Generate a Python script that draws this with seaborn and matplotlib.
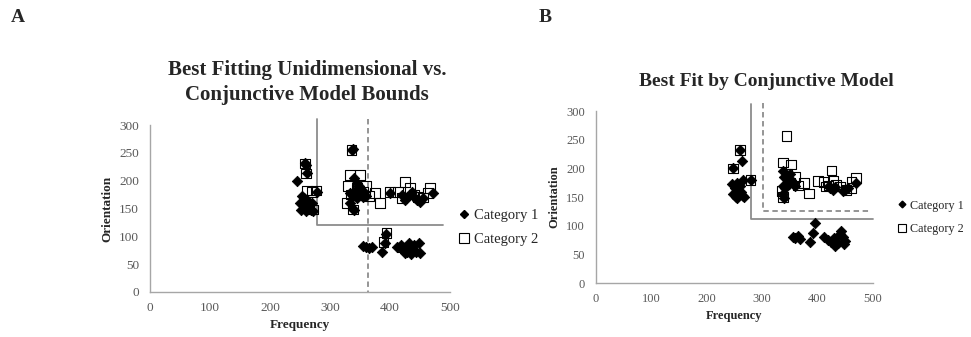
import matplotlib
matplotlib.use("Agg")
import matplotlib.pyplot as plt
from matplotlib.lines import Line2D
import seaborn as sns
import pandas as pd

# ---------------- data ----------------
# Panel A
a_cat1_freq = [245, 258, 260, 262, 253, 256, 250, 255, 258, 262, 265, 252, 260, 268, 272, 256, 262, 266, 270, 278,
               336, 338, 340, 345, 348, 350, 342, 334, 338, 352, 355, 345, 333, 338, 340, 356, 360,
               400, 428, 436, 450, 472, 425, 440, 445, 420, 455,
               355, 360, 365, 370, 394, 392, 386, 412, 418, 422, 428, 430, 435, 438, 440, 444, 448, 450, 425, 432]
a_cat1_orient = [200, 232, 228, 213, 172, 168, 160, 158, 155, 152, 150, 148, 146, 147, 146, 163, 165, 158, 160, 180,
                 255, 256, 205, 195, 190, 185, 182, 178, 172, 175, 170, 168, 160, 150, 147, 180, 172,
                 178, 171, 180, 162, 178, 165, 170, 165, 175, 168,
                 82, 80, 79, 81, 105, 88, 72, 80, 85, 75, 72, 80, 68, 78, 85, 72, 88, 70, 70, 88]
a_cat2_freq = [258, 260, 262, 270, 277, 265, 272,
               336, 333, 350, 330, 335, 328, 345, 355, 360, 338, 375, 383, 365,
               400, 413, 425, 433, 447, 467, 463, 420, 440, 455,
               394, 389, 420, 430]
a_cat2_orient = [231, 213, 182, 180, 182, 150, 148,
                 255, 210, 210, 190, 175, 160, 185, 180, 190, 148, 178, 160, 172,
                 180, 180, 198, 187, 171, 187, 178, 169, 175, 170,
                 106, 90, 80, 75]

# Panel B
b_cat1_freq = [260, 263, 247, 245, 250, 248, 252, 255, 258, 262, 265, 268, 255, 260, 265, 279,
               337, 340, 345, 350, 352, 355, 338, 342, 348, 360, 337, 340,
               423, 428, 431, 446, 450, 455, 469, 420,
               395, 392, 386, 356, 360, 365, 368, 412, 418, 425, 430, 436, 440, 445, 448, 450, 432, 442]
b_cat1_orient = [232, 212, 200, 172, 165, 155, 150, 148, 160, 158, 152, 150, 175, 170, 180, 180,
                 195, 185, 182, 190, 180, 175, 170, 165, 172, 170, 155, 148,
                 165, 163, 167, 160, 163, 166, 174, 170,
                 104, 87, 72, 80, 78, 82, 77, 80, 75, 72, 78, 70, 85, 80, 68, 73, 65, 90]
b_cat2_freq = [260, 247, 279, 344, 337, 352, 335, 338, 345, 350, 360, 365, 375, 384, 401, 425,
               412, 420, 428, 433, 415, 461, 469, 461, 452, 440]
b_cat2_orient = [232, 200, 180, 256, 210, 207, 160, 150, 190, 175, 185, 170, 174, 156, 178, 196,
                 176, 170, 178, 172, 168, 166, 183, 177, 162, 168]

# model bounds
a_solid_x = [278, 278, 488]
a_solid_y = [310, 120, 120]
a_dash_x = [363, 363]
a_dash_y = [310, 0]
b_solid_x = [279, 279, 500]
b_solid_y = [312, 112, 112]
b_dash_x = [301, 301, 495]
b_dash_y = [314, 126, 126]

categories = ["Category 1", "Category 2"]
x_ticks = [0, 100, 200, 300, 400, 500]
y_ticks = [0, 50, 100, 150, 200, 250, 300]

# ---------------- style ----------------
sns.set_style("white")
plt.rcParams["font.family"] = ["Liberation Serif", "DejaVu Serif"]

fig = plt.figure(figsize=(9.71, 3.37), dpi=100)
W, H = 971, 337


def axes_from_px(x0, x1, y0, y1):
    return fig.add_axes([x0 / W, 1 - y1 / H, (x1 - x0) / W, (y1 - y0) / H])


axA = axes_from_px(150, 450, 125, 292)
axB = axes_from_px(596, 873, 111, 283)

spine_col = "#a6a6a6"
tick_col = "#595959"
line_col = "#8c8c8c"


def draw(ax, f1, o1, f2, o2, fs):
    d1 = pd.DataFrame({"Frequency": f1, "Orientation": o1})
    d2 = pd.DataFrame({"Frequency": f2, "Orientation": o2})
    sns.scatterplot(data=d1, x="Frequency", y="Orientation", marker="D", s=28,
                    color="black", edgecolor="black", linewidth=0.6, ax=ax, zorder=3)
    sns.scatterplot(data=d2, x="Frequency", y="Orientation", marker="s", s=48,
                    facecolor="none", edgecolor="black", linewidth=0.8, ax=ax, zorder=4)
    ax.set_xlim(0, 500)
    ax.set_ylim(0, 300)
    ax.set_xticks(x_ticks)
    ax.set_yticks(y_ticks)
    for s in ["top", "right"]:
        ax.spines[s].set_visible(False)
    for s in ["left", "bottom"]:
        ax.spines[s].set_color(spine_col)
        ax.spines[s].set_linewidth(1.0)
    ax.tick_params(axis="both", which="both", direction="out", length=3, width=0.8,
                   color=spine_col, labelcolor=tick_col, labelsize=fs)
    ax.tick_params(axis="x", pad=4)
    ax.tick_params(axis="y", pad=5)
    ax.set_xlabel("Frequency", fontsize=fs, fontweight="bold", labelpad=4)
    ax.set_ylabel("Orientation", fontsize=fs, fontweight="bold", labelpad=4)
    ax.set_facecolor("white")


draw(axA, a_cat1_freq, a_cat1_orient, a_cat2_freq, a_cat2_orient, 9.5)
draw(axB, b_cat1_freq, b_cat1_orient, b_cat2_freq, b_cat2_orient, 9)

axA.plot(a_solid_x, a_solid_y, color=line_col, lw=1.3, clip_on=False, zorder=2)
axA.plot(a_dash_x, a_dash_y, color=line_col, lw=1.3, ls=(0, (3, 2)), clip_on=False, zorder=2)
axB.plot(b_solid_x, b_solid_y, color=line_col, lw=1.3, clip_on=False, zorder=2)
axB.plot(b_dash_x, b_dash_y, color=line_col, lw=1.3, ls=(0, (3, 2)), clip_on=False, zorder=2)


def make_handles(ms):
    return [
        Line2D([], [], marker="D", color="black", ls="none", markersize=ms * 0.62, label=categories[0]),
        Line2D([], [], marker="s", markerfacecolor="none", markeredgecolor="black", ls="none",
               markersize=ms, markeredgewidth=0.8, label=categories[1]),
    ]


for ax, anchor, fs, ms, sp in [(axA, (1.03, 0.50), 10.5, 6.5, 0.75),
                               (axB, (1.09, 0.485), 8.7, 5.5, 0.95)]:
    leg = ax.legend(handles=make_handles(ms), loc="upper left", bbox_to_anchor=anchor, frameon=False,
                    fontsize=fs, handlelength=0.7, handletextpad=0.3, labelspacing=sp,
                    borderaxespad=0, borderpad=0)
    for t in leg.get_texts():
        t.set_color("#262626")

fig.text(307 / W, 1 - 70 / H, "Best Fitting Unidimensional vs.", ha="center", va="center",
         fontsize=15, fontweight="bold")
fig.text(307 / W, 1 - 95 / H, "Conjunctive Model Bounds", ha="center", va="center",
         fontsize=15, fontweight="bold")
fig.text(766 / W, 1 - 81 / H, "Best Fit by Conjunctive Model", ha="center", va="center",
         fontsize=14, fontweight="bold")
fig.text(18 / W, 1 - 18 / H, "A", ha="center", va="center", fontsize=14, fontweight="bold")
fig.text(545 / W, 1 - 18 / H, "B", ha="center", va="center", fontsize=14, fontweight="bold")

fig.savefig("out.png", dpi=100, facecolor="white")
